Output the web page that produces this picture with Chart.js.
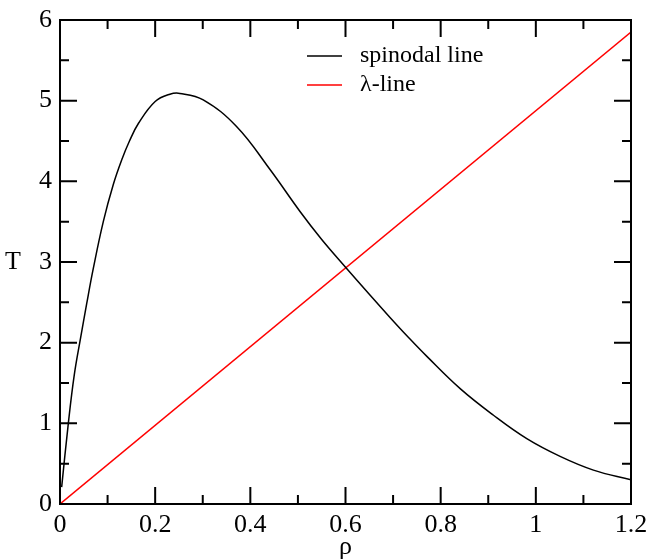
<!DOCTYPE html>
<html>
<head>
<meta charset="utf-8">
<script src="https://cdn.jsdelivr.net/npm/chart.js@4"></script>
<style>
  html, body { margin: 0; padding: 0; background: #fff; }
  canvas { display: block; }
</style>
</head>
<body>
<canvas id="phaseChart" width="649" height="560"></canvas>
<script>
// spinodal line
let spinRho = [0.0035, 0.0175, 0.030, 0.043, 0.056, 0.070, 0.091, 0.112, 0.130, 0.146, 0.165, 0.200,
               0.231, 0.252, 0.301, 0.371, 0.441, 0.504, 0.550, 0.601, 0.650, 0.694, 0.730, 0.771,
               0.841, 0.911, 0.981, 1.051, 1.121, 1.2];
let spinT = [0.21, 1.00, 1.60, 2.05, 2.48, 2.92, 3.50, 3.96, 4.27, 4.50, 4.72, 4.99,
             5.08, 5.09, 5.01, 4.68, 4.15, 3.63, 3.28, 2.93, 2.60, 2.31, 2.08, 1.83,
             1.43, 1.10, 0.81, 0.59, 0.42, 0.30];

// lambda line (straight)
let lambdaRho = [0, 1.2];
let lambdaT = [0, 5.85];

let seriesNames = ["spinodal line", "λ-line"];
let xTicks = [0, 0.2, 0.4, 0.6, 0.8, 1, 1.2];
let yTicks = [0, 1, 2, 3, 4, 5, 6];

const FONT = "'Liberation Serif', 'DejaVu Serif', serif";

function toPoints(xs, ys) {
    return xs.map((x, i) => ({ x: x, y: ys[i] }));
}

// frame + inward ticks (major and minor) + inside legend + unrotated y title
const framePlugin = {
    id: 'frame',
    afterDraw(chart) {
        let ctx = chart.ctx;
        let a = chart.chartArea;
        let xs = chart.scales.x;
        let ys = chart.scales.y;
        ctx.save();
        ctx.strokeStyle = '#000';
        ctx.lineWidth = 2;

        ctx.beginPath();
        xTicks.forEach((v, i) => {
            let px = xs.getPixelForValue(v);
            ctx.moveTo(px, a.bottom); ctx.lineTo(px, a.bottom - 17);
            ctx.moveTo(px, a.top); ctx.lineTo(px, a.top + 17);
            if (i < xTicks.length - 1) {
                let m = xs.getPixelForValue((v + xTicks[i + 1]) / 2);
                ctx.moveTo(m, a.bottom); ctx.lineTo(m, a.bottom - 9);
                ctx.moveTo(m, a.top); ctx.lineTo(m, a.top + 9);
            }
        });
        yTicks.forEach((v, i) => {
            let py = ys.getPixelForValue(v);
            ctx.moveTo(a.left, py); ctx.lineTo(a.left + 17, py);
            ctx.moveTo(a.right, py); ctx.lineTo(a.right - 17, py);
            if (i < yTicks.length - 1) {
                let m = ys.getPixelForValue((v + yTicks[i + 1]) / 2);
                ctx.moveTo(a.left, m); ctx.lineTo(a.left + 9, m);
                ctx.moveTo(a.right, m); ctx.lineTo(a.right - 9, m);
            }
        });
        ctx.stroke();
        ctx.strokeRect(a.left, a.top, a.right - a.left, a.bottom - a.top);

        // legend
        ctx.font = '24px ' + FONT;
        ctx.textBaseline = 'middle';
        ctx.textAlign = 'left';
        chart.data.datasets.forEach((ds, i) => {
            let y = a.top + 36 + i * 29;
            ctx.strokeStyle = ds.borderColor;
            ctx.lineWidth = 1.5;
            ctx.beginPath();
            ctx.moveTo(a.left + 247, y);
            ctx.lineTo(a.left + 282, y);
            ctx.stroke();
            ctx.fillStyle = '#000';
            ctx.fillText(ds.label, a.left + 300, y);
        });

        // y title, upright
        ctx.font = '26px ' + FONT;
        ctx.textAlign = 'center';
        ctx.fillText('T', 13, (a.top + a.bottom) / 2);
        ctx.restore();
    }
};

let ctx = document.getElementById("phaseChart").getContext("2d");

let chart = new Chart(ctx, {
    type: 'scatter',
    data: {
        datasets: [{
            label: seriesNames[0],
            data: toPoints(spinRho, spinT),
            showLine: true,
            borderColor: '#000000',
            borderWidth: 1.5,
            pointRadius: 0,
            tension: 0.4
        }, {
            label: seriesNames[1],
            data: toPoints(lambdaRho, lambdaT),
            showLine: true,
            borderColor: '#ff0000',
            borderWidth: 1.5,
            pointRadius: 0
        }]
    },
    options: {
        responsive: false,
        animation: false,
        layout: { padding: { top: 20, right: 18, left: 0, bottom: 0 } },
        plugins: {
            legend: { display: false },
            tooltip: { enabled: false }
        },
        scales: {
            x: {
                type: 'linear',
                min: 0,
                max: 1.2,
                afterFit(scale) {
                    scale.height = 56;
                    scale.paddingLeft = 0;
                    scale.paddingRight = 0;
                },
                afterBuildTicks(scale) { scale.ticks = xTicks.map(v => ({ value: v })); },
                grid: { display: false, drawTicks: false },
                border: { display: false },
                ticks: {
                    color: '#000',
                    padding: 6,
                    maxRotation: 0,
                    font: { family: FONT, size: 26 },
                    callback: v => String(Math.round(v * 10) / 10)
                },
                title: {
                    display: true,
                    text: 'ρ',
                    color: '#000',
                    padding: { top: 0, bottom: -3 },
                    font: { family: FONT, size: 26 }
                }
            },
            y: {
                type: 'linear',
                min: 0,
                max: 6,
                afterFit(scale) {
                    scale.width = 60;
                    scale.paddingTop = 0;
                    scale.paddingBottom = 0;
                },
                afterBuildTicks(scale) { scale.ticks = yTicks.map(v => ({ value: v })); },
                grid: { display: false, drawTicks: false },
                border: { display: false },
                ticks: {
                    color: '#000',
                    padding: 8,
                    font: { family: FONT, size: 26 }
                }
            }
        }
    },
    plugins: [framePlugin]
});
</script>
</body>
</html>
